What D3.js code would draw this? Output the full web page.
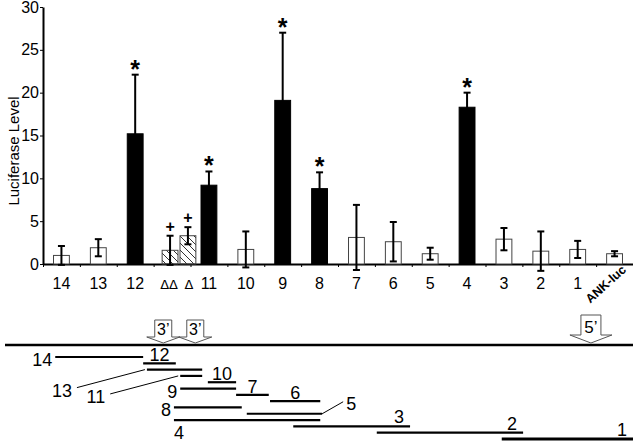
<!DOCTYPE html>
<html>
<head>
<meta charset="utf-8">
<script src="https://cdn.jsdelivr.net/npm/d3@7"></script>
<style>
  body { margin: 0; background: #fff; }
  svg { display: block; font-family: "Liberation Sans", Arial, sans-serif; }
</style>
</head>
<body>
<svg width="633" height="442"></svg>
<script>
// x axis slots (the two deletion constructs share one slot)
var slots    = ["14", "13", "12", "del", "11", "10", "9", "8", "7", "6", "5", "4", "3", "2", "1", "ANK-luc"];
var barNames = ["14", "13", "12", "ΔΔ", "Δ", "11", "10", "9", "8", "7", "6", "5", "4", "3", "2", "1", "ANK-luc"];
var barSlots = ["14", "13", "12", "del", "del", "11", "10", "9", "8", "7", "6", "5", "4", "3", "2", "1", "ANK-luc"];
var means    = [1.0, 1.9, 15.2, 1.6, 3.3, 9.2, 1.7, 19.1, 8.8, 3.1, 2.6, 1.2, 18.3, 2.9, 1.5, 1.7, 1.2];
var errs     = [1.1, 1.0, 6.9, 1.7, 1.0, 1.6, 2.1, 7.9, 1.9, 3.8, 2.3, 0.7, 1.7, 1.3, 2.3, 1.0, 0.3];
var fills    = ["open", "open", "solid", "hatch", "hatch", "solid", "open", "solid", "solid", "open", "open", "open", "solid", "open", "open", "open", "open"];
var marks    = ["", "", "*", "+", "+", "*", "", "*", "*", "", "", "", "*", "", "", "", ""];
var yTicks   = [0, 5, 10, 15, 20, 25, 30];

// construct map (map units 0..100 along the genomic line)
var fragNames = ["14", "12", "13", "11", "10", "9", "7", "6", "8", "5", "4", "3", "2", "1"];
var fragStart = [8.0, 22.0, 22.6, 27.9, 32.3, 27.9, 36.8, 42.2, 26.9, 38.5, 26.9, 45.9, 59.2, 79.1];
var fragEnd   = [22.0, 27.2, 31.4, 31.4, 36.8, 36.8, 42.0, 50.2, 37.7, 50.5, 50.2, 64.5, 82.5, 100];
var fragTrack = [0, 1, 2, 3, 4, 5, 6, 7, 8, 9, 10, 11, 12, 13];
var fragLabel = ["left", "above", "callout-left", "callout-left", "above", "left", "above", "above",
                 "left", "callout-right", "below", "above-end", "above-end", "above-end"];
var endNames  = ["3’", "3’", "5’"];
var endPos    = [25.2, 30.3, 93.3];

var svg = d3.select("svg");

var x = d3.scaleBand().domain(slots).range([43, 633]);
var xEdges = d3.scaleLinear().domain([0, slots.length]).range([43, 633]);
var y = d3.scaleLinear().domain([0, 30]).range([264, 7]);
var barW = x.bandwidth() * 0.43;

// hatch for the deletion constructs
svg.append("defs").append("pattern")
    .attr("id", "hatch")
    .attr("patternUnits", "userSpaceOnUse")
    .attr("width", 7).attr("height", 7)
  .append("path")
    .attr("d", "M0,0L7,7M-1,6L1,8M6,-1L8,1")
    .attr("stroke", "#333")
    .attr("stroke-width", 1);

var bars = barNames.map(function (name, i) {
    var slot = barSlots[i];
    var shared = barSlots.filter(function (s) { return s === slot; }).length;
    var k = barSlots.slice(0, i).filter(function (s) { return s === slot; }).length;
    var cx = x(slot) + x.bandwidth() / 2;
    var left = shared > 1 ? cx - barW / 2 - 2 + k * (barW + 2) : cx - barW / 2;
    return { name: name, left: left, mid: left + barW / 2, mean: means[i], err: errs[i], fill: fills[i], mark: marks[i], shared: shared > 1 };
});

// axes
var yAxis = svg.append("g")
    .attr("transform", "translate(43,0)")
    .call(d3.axisLeft(y).tickValues(yTicks).tickSize(3).tickSizeOuter(0).tickPadding(1));
yAxis.select(".domain").attr("stroke-width", 2);
yAxis.selectAll("text")
    .attr("font-size", 16)
    .attr("font-family", "Liberation Sans, Arial, sans-serif")
    .attr("fill", "#000");

var xAxis = svg.append("g")
    .attr("transform", "translate(0,264)")
    .call(d3.axisBottom(xEdges).ticks(slots.length).tickSize(3).tickSizeOuter(0).tickFormat(""));
xAxis.select(".domain").attr("stroke-width", 2);

svg.append("text")
    .attr("transform", "translate(13,151) rotate(-90)")
    .attr("text-anchor", "middle")
    .attr("dominant-baseline", "central")
    .attr("font-size", 15)
    .text("Luciferase Level");

// bars
svg.append("g").selectAll("rect")
    .data(bars)
    .enter().append("rect")
    .attr("x", function (d) { return d.left; })
    .attr("y", function (d) { return y(d.mean); })
    .attr("width", barW)
    .attr("height", function (d) { return y(0) - y(d.mean); })
    .attr("fill", function (d) {
        if (d.fill === "solid") return "#000";
        if (d.fill === "hatch") return "url(#hatch)";
        return "#fff";
    })
    .attr("stroke", function (d) { return d.fill === "solid" ? "#000" : "#444"; })
    .attr("stroke-width", 1);

// error bars
var eb = svg.append("g").attr("stroke", "#000").attr("stroke-width", 2);
bars.forEach(function (d) {
    eb.append("line")
        .attr("x1", d.mid).attr("x2", d.mid)
        .attr("y1", y(d.mean + d.err)).attr("y2", y(d.mean - d.err));
    [d.mean + d.err, d.mean - d.err].forEach(function (v) {
        eb.append("line")
            .attr("x1", d.mid - 3.5).attr("x2", d.mid + 3.5)
            .attr("y1", y(v)).attr("y2", y(v));
    });
});

// significance marks
svg.append("g").selectAll("text")
    .data(bars.filter(function (d) { return d.mark; }))
    .enter().append("text")
    .attr("x", function (d) { return d.mid; })
    .attr("y", function (d) { return d.mark === "*" ? y(d.mean + d.err) + 3 : y(d.mean + d.err) - 4; })
    .attr("text-anchor", "middle")
    .attr("fill", "#000")
    .attr("font-size", function (d) { return d.mark === "*" ? 25 : 16; })
    .attr("font-weight", "bold")
    .text(function (d) { return d.mark; });

// category labels
svg.append("g").selectAll("text")
    .data(bars)
    .enter().append("text")
    .attr("text-anchor", "middle")
    .attr("fill", "#000")
    .attr("font-family", function (d) { return d.shared ? "DejaVu Sans, sans-serif" : null; })
    .attr("font-size", function (d) {
        if (d.name === "ANK-luc") return 12.5;
        return d.shared ? 13 : 16;
    })
    .attr("font-weight", function (d) { return d.name === "ANK-luc" ? "bold" : "normal"; })
    .attr("transform", function (d) {
        if (d.name === "ANK-luc") return "translate(" + (d.mid - 9) + ",284) rotate(-42)";
        if (d.shared) return "translate(" + (d.name === "Δ" ? d.mid + 1 : d.mid - 1) + ",289)";
        return "translate(" + d.mid + ",289)";
    })
    .attr("dy", function (d) { return d.name === "ANK-luc" ? "0.35em" : 0; })
    .text(function (d) { return d.name; });

// ---- construct map ----
var mx = d3.scaleLinear().domain([0, 100]).range([5, 633]);
var my = d3.scaleLinear().domain([0, 13]).range([357, 439]);
var lineY = 345;

svg.append("line")
    .attr("x1", mx(0)).attr("x2", mx(100))
    .attr("y1", lineY).attr("y2", lineY)
    .attr("stroke", "#000").attr("stroke-width", 2.5);

// end arrows
endNames.forEach(function (name, i) {
    var cx = mx(endPos[i]);
    var big = name === "5’";
    var bw = big ? 10 : 8.5, bh = big ? 20 : 17, hw = big ? 21 : 16.5, hh = big ? 8 : 6;
    var top = lineY - 2 - hh - bh;
    var g = svg.append("g");
    g.append("path")
        .attr("d", "M" + (cx - bw) + "," + top + "V" + (top + bh) + "H" + (cx - hw) +
                   "L" + cx + "," + (lineY - 2) + "L" + (cx + hw) + "," + (top + bh) +
                   "H" + (cx + bw) + "V" + top + "Z")
        .attr("fill", "#fff").attr("stroke", "#555").attr("stroke-width", 1);
    g.append("text")
        .attr("x", cx).attr("y", top + bh - 2)
        .attr("text-anchor", "middle")
        .attr("font-size", big ? 17 : 16)
        .text(name);
});

var frag = svg.append("g");
fragNames.forEach(function (name, i) {
    var x1 = mx(fragStart[i]), x2 = mx(fragEnd[i]), fy = my(fragTrack[i]);
    frag.append("line")
        .attr("x1", x1).attr("x2", x2).attr("y1", fy).attr("y2", fy)
        .attr("stroke", "#000").attr("stroke-width", name === "1" ? 3 : 2.2);

    var t = frag.append("text").attr("font-size", 18).text(name);
    var where = fragLabel[i];
    if (where === "left") {
        t.attr("x", x1 - 3).attr("y", fy + 9).attr("text-anchor", "end");
    } else if (where === "above") {
        t.attr("x", (x1 + x2) / 2).attr("y", fy - 2).attr("text-anchor", "middle");
    } else if (where === "above-end") {
        t.attr("x", x2 - 6).attr("y", fy - 3).attr("text-anchor", "end");
    } else if (where === "below") {
        t.attr("x", x1).attr("y", fy + 19).attr("text-anchor", "start");
    } else if (where === "callout-left") {
        t.attr("x", x1 - 75).attr("y", fy + 27).attr("text-anchor", "end");
        frag.append("line")
            .attr("x1", x1 - 70).attr("y1", fy + 18).attr("x2", x1 - 2).attr("y2", fy)
            .attr("stroke", "#000").attr("stroke-width", 1);
    } else if (where === "callout-right") {
        t.attr("x", x2 + 24).attr("y", fy - 4).attr("text-anchor", "start");
        frag.append("line")
            .attr("x1", x2).attr("y1", fy).attr("x2", x2 + 21).attr("y2", fy - 12)
            .attr("stroke", "#000").attr("stroke-width", 1);
    }
});
</script>
</body>
</html>
